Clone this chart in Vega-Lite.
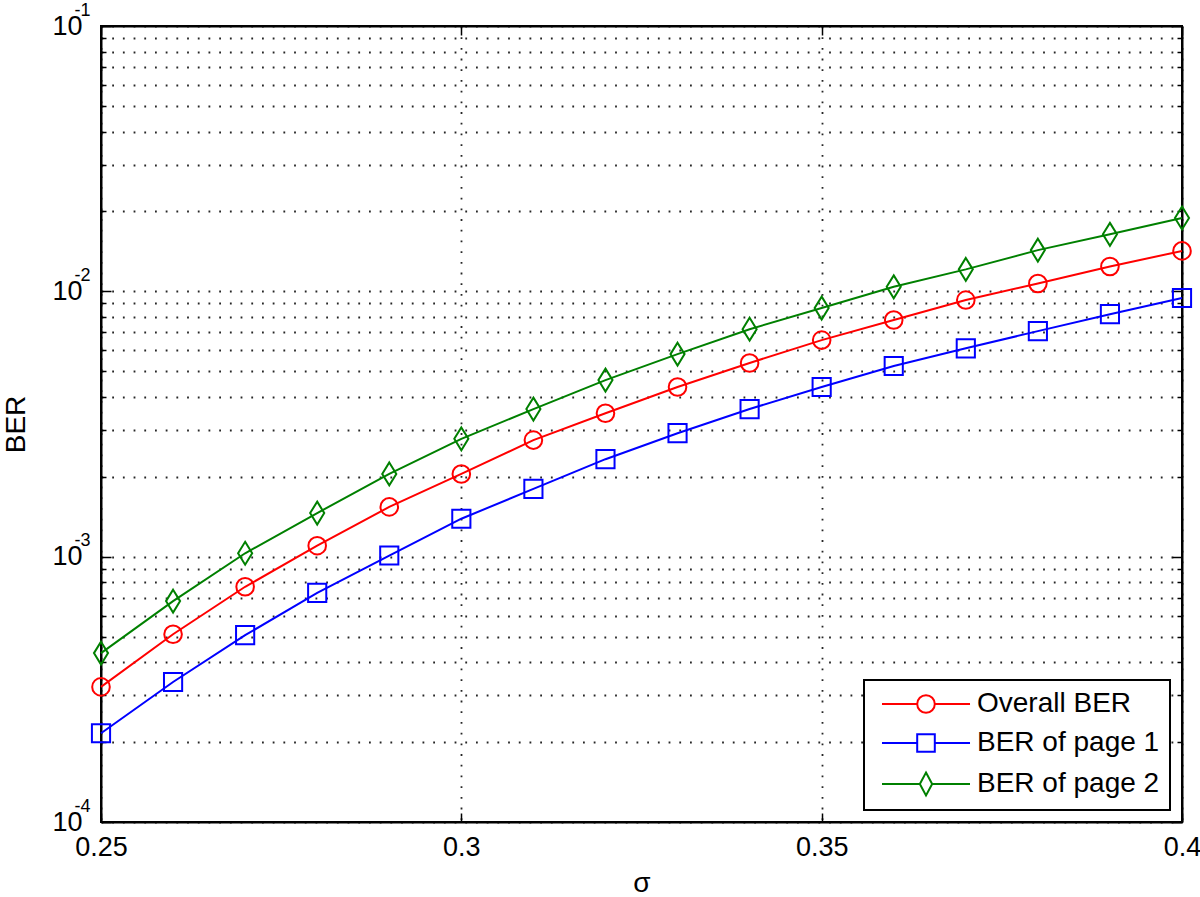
{
  "$schema": "https://vega.github.io/schema/vega-lite/v6.json",
  "width": 1081,
  "height": 796,
  "autosize": {"type": "none"},
  "padding": {"left": 101, "top": 26, "right": 18, "bottom": 75},
  "background": "white",
  "config": {
    "font": "Liberation Sans",
    "view": {"stroke": "black", "strokeWidth": 2},
    "axis": {
      "domainColor": "black",
      "domainWidth": 2,
      "tickColor": "black",
      "tickWidth": 1.5,
      "labelColor": "black",
      "titleColor": "black",
      "labelFont": "Liberation Sans",
      "titleFont": "Liberation Sans",
      "labelFontSize": 27,
      "titleFontSize": 28,
      "titleFontWeight": "normal",
      "gridColor": "#000",
      "gridWidth": 1.8,
      "gridDash": [1.8, 8.9],
      "gridOpacity": 0.85,
      "labelOverlap": false,
      "labelFlush": false
    },
    "legend": {
      "symbolOpacity": 1,
      "symbolStrokeWidth": 2,
      "symbolSize": 310,
      "symbolFillColor": "transparent",
      "labelFontSize": 28,
      "labelFont": "Liberation Sans",
      "labelColor": "black",
      "labelLimit": 500,
      "symbolOffset": 38,
      "labelOffset": 37,
      "padding": 10,
      "rowPadding": 11,
      "strokeColor": "black",
      "strokeWidth": 2,
      "fillColor": "white",
      "cornerRadius": 0
    }
  },
  "data": {
    "values": [
      {"s": 0.25, "series": "Overall BER", "ber": 0.000323},
      {"s": 0.26, "series": "Overall BER", "ber": 0.00051},
      {"s": 0.27, "series": "Overall BER", "ber": 0.00077},
      {"s": 0.28, "series": "Overall BER", "ber": 0.0011},
      {"s": 0.29, "series": "Overall BER", "ber": 0.00154},
      {"s": 0.30, "series": "Overall BER", "ber": 0.00205},
      {"s": 0.31, "series": "Overall BER", "ber": 0.00275},
      {"s": 0.32, "series": "Overall BER", "ber": 0.00347},
      {"s": 0.33, "series": "Overall BER", "ber": 0.00436},
      {"s": 0.34, "series": "Overall BER", "ber": 0.00537},
      {"s": 0.35, "series": "Overall BER", "ber": 0.00655},
      {"s": 0.36, "series": "Overall BER", "ber": 0.0078},
      {"s": 0.37, "series": "Overall BER", "ber": 0.00927},
      {"s": 0.38, "series": "Overall BER", "ber": 0.0107},
      {"s": 0.39, "series": "Overall BER", "ber": 0.0124},
      {"s": 0.40, "series": "Overall BER", "ber": 0.0142},
      {"s": 0.25, "series": "BER of page 1", "ber": 0.000216},
      {"s": 0.26, "series": "BER of page 1", "ber": 0.000337},
      {"s": 0.27, "series": "BER of page 1", "ber": 0.000506},
      {"s": 0.28, "series": "BER of page 1", "ber": 0.00073},
      {"s": 0.29, "series": "BER of page 1", "ber": 0.00101},
      {"s": 0.30, "series": "BER of page 1", "ber": 0.00139},
      {"s": 0.31, "series": "BER of page 1", "ber": 0.0018},
      {"s": 0.32, "series": "BER of page 1", "ber": 0.00233},
      {"s": 0.33, "series": "BER of page 1", "ber": 0.00292},
      {"s": 0.34, "series": "BER of page 1", "ber": 0.0036},
      {"s": 0.35, "series": "BER of page 1", "ber": 0.00436},
      {"s": 0.36, "series": "BER of page 1", "ber": 0.00523},
      {"s": 0.37, "series": "BER of page 1", "ber": 0.0061},
      {"s": 0.38, "series": "BER of page 1", "ber": 0.00708},
      {"s": 0.39, "series": "BER of page 1", "ber": 0.0082},
      {"s": 0.40, "series": "BER of page 1", "ber": 0.00944},
      {"s": 0.25, "series": "BER of page 2", "ber": 0.000433},
      {"s": 0.26, "series": "BER of page 2", "ber": 0.00068},
      {"s": 0.27, "series": "BER of page 2", "ber": 0.00103},
      {"s": 0.28, "series": "BER of page 2", "ber": 0.00146},
      {"s": 0.29, "series": "BER of page 2", "ber": 0.00205},
      {"s": 0.30, "series": "BER of page 2", "ber": 0.00278},
      {"s": 0.31, "series": "BER of page 2", "ber": 0.0036},
      {"s": 0.32, "series": "BER of page 2", "ber": 0.00463},
      {"s": 0.33, "series": "BER of page 2", "ber": 0.0058},
      {"s": 0.34, "series": "BER of page 2", "ber": 0.0072},
      {"s": 0.35, "series": "BER of page 2", "ber": 0.00865},
      {"s": 0.36, "series": "BER of page 2", "ber": 0.0104},
      {"s": 0.37, "series": "BER of page 2", "ber": 0.0121},
      {"s": 0.38, "series": "BER of page 2", "ber": 0.0143},
      {"s": 0.39, "series": "BER of page 2", "ber": 0.0164},
      {"s": 0.40, "series": "BER of page 2", "ber": 0.0189}
    ]
  },
  "layer": [
    {
      "mark": {"type": "line", "strokeWidth": 2},
      "encoding": {
        "x": {
          "field": "s", "type": "quantitative",
          "scale": {"domain": [0.25, 0.4], "nice": false, "zero": false},
          "axis": {
            "orient": "bottom",
            "values": [0.25, 0.3, 0.35, 0.4],
            "format": ".2~f",
            "grid": true,
            "tickSize": -9,
            "labelPadding": 21,
            "title": "σ",
            "titlePadding": 9
          }
        },
        "y": {
          "field": "ber", "type": "quantitative",
          "scale": {"type": "log", "domain": [0.0001, 0.1], "nice": false},
          "axis": {
            "orient": "left",
            "values": [0.0001, 0.0002, 0.0003, 0.0004, 0.0005, 0.0006, 0.0007, 0.0008, 0.0009, 0.001, 0.002, 0.003, 0.004, 0.005, 0.006, 0.007, 0.008, 0.009, 0.01, 0.02, 0.03, 0.04, 0.05, 0.06, 0.07, 0.08, 0.09, 0.1],
            "labelExpr": "indexof([0.0001, 0.001, 0.01, 0.1], datum.value) >= 0 ? '10' : ''",
            "grid": true,
            "tickSize": {"condition": {"test": "indexof([0.0001, 0.001, 0.01, 0.1], datum.value) >= 0", "value": -10}, "value": -5},
            "labelPadding": 29,
            "title": "BER",
            "titlePadding": 21
          }
        },
        "color": {
          "field": "series", "type": "nominal",
          "scale": {"domain": ["Overall BER", "BER of page 1", "BER of page 2"], "range": ["#ff0000", "#0000ff", "#008000"]},
          "legend": {"orient": "bottom-right", "offset": 12, "title": null}
        }
      }
    },
    {
      "transform": [{"filter": "datum.series == 'Overall BER'"}],
      "mark": {"type": "point", "filled": false, "size": 310, "strokeWidth": 2, "opacity": 1, "shape": "circle"},
      "encoding": {
        "x": {
          "field": "s", "type": "quantitative",
          "axis": {"orient": "top", "values": [0.25, 0.3, 0.35, 0.4], "labels": false, "grid": false, "tickSize": -9, "title": null}
        },
        "y": {
          "field": "ber", "type": "quantitative",
          "axis": {
            "orient": "right",
            "values": [0.0001, 0.0002, 0.0003, 0.0004, 0.0005, 0.0006, 0.0007, 0.0008, 0.0009, 0.001, 0.002, 0.003, 0.004, 0.005, 0.006, 0.007, 0.008, 0.009, 0.01, 0.02, 0.03, 0.04, 0.05, 0.06, 0.07, 0.08, 0.09, 0.1],
            "labels": false, "grid": false, "title": null,
            "tickSize": {"condition": {"test": "indexof([0.0001, 0.001, 0.01, 0.1], datum.value) >= 0", "value": -10}, "value": -5}
          }
        },
        "color": {"field": "series", "type": "nominal"}
      }
    },
    {
      "transform": [{"filter": "datum.series == 'BER of page 1'"}],
      "mark": {"type": "point", "filled": false, "size": 330, "strokeWidth": 2, "opacity": 1, "shape": "square"},
      "encoding": {
        "x": {"field": "s", "type": "quantitative", "axis": null},
        "y": {"field": "ber", "type": "quantitative", "axis": null},
        "color": {"field": "series", "type": "nominal"}
      }
    },
    {
      "transform": [{"filter": "datum.series == 'BER of page 2'"}],
      "mark": {"type": "point", "filled": false, "size": 310, "strokeWidth": 2, "opacity": 1, "shape": "M0,-1.3L0.8,0L0,1.3L-0.8,0Z"},
      "encoding": {
        "x": {"field": "s", "type": "quantitative", "axis": null},
        "y": {
          "field": "ber", "type": "quantitative",
          "axis": {
            "orient": "left",
            "values": [0.0001, 0.001, 0.01, 0.1],
            "labelExpr": "datum.value == 0.1 ? '-1' : datum.value == 0.01 ? '-2' : datum.value == 0.001 ? '-3' : '-4'",
            "labelAlign": "left",
            "labelPadding": 27,
            "labelOffset": -16,
            "labelFontSize": 18,
            "domain": false,
            "ticks": false,
            "grid": false,
            "title": null
          }
        },
        "color": {"field": "series", "type": "nominal"}
      }
    },
    {
      "transform": [{"filter": "datum.s > 1"}],
      "mark": {"type": "point", "filled": false, "size": 310, "strokeWidth": 2},
      "encoding": {
        "x": {"field": "s", "type": "quantitative", "axis": null},
        "y": {"field": "ber", "type": "quantitative", "axis": null},
        "color": {"field": "series", "type": "nominal"},
        "shape": {
          "field": "series", "type": "nominal",
          "scale": {"domain": ["Overall BER", "BER of page 1", "BER of page 2"], "range": ["M-5,0H-1M1,0H5M1,0A1,1 0 1,1 -1,0A1,1 0 1,1 1,0", "M-5,0H-1M1,0H5M-1,-1H1V1H-1Z", "M-5,0H-0.7M0.7,0H5M0,-1.3L0.7,0L0,1.3L-0.7,0Z"]},
          "legend": {"orient": "bottom-right", "offset": 12, "title": null}
        }
      }
    }
  ],
  "resolve": {
    "axis": {"x": "independent", "y": "independent"}
  }
}
